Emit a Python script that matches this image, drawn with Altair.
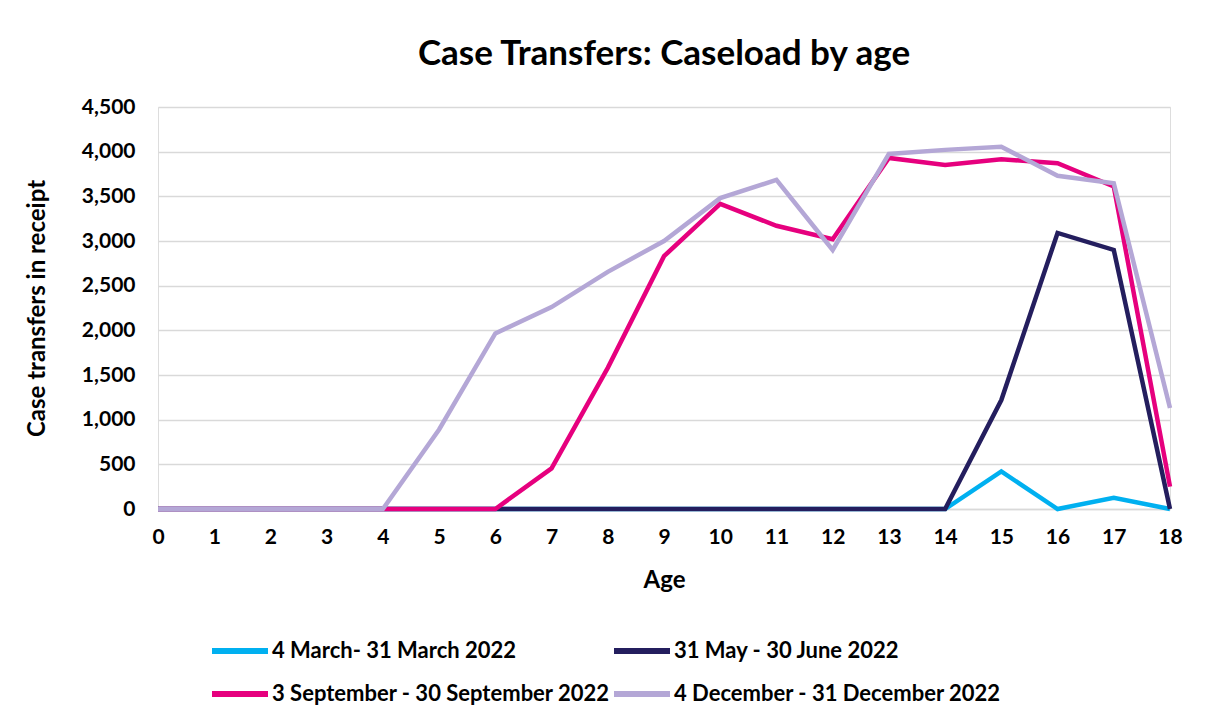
import altair as alt
import pandas as pd

ages = [0, 1, 2, 3, 4, 5, 6, 7, 8, 9, 10, 11, 12, 13, 14, 15, 16, 17, 18]
series_names = [
    " 4 March- 31 March 2022",
    "31 May - 30 June 2022",
    "3 September - 30 September 2022",
    "4 December - 31 December 2022",
]
series_colors = ["#00b0f0", "#241e5e", "#e6007e", "#b4a7d6"]
# legend fills column by column: list entries so rows read March|May, September|December
legend_order = [0, 2, 1, 3]

march = [0, 0, 0, 0, 0, 0, 0, 0, 0, 0, 0, 0, 0, 0, 0, 420, 0, 125, 0]
may_june = [0, 0, 0, 0, 0, 0, 0, 0, 0, 0, 0, 0, 0, 0, 0, 1220, 3090, 2900, 0]
september = [0, 0, 0, 0, 0, 0, 0, 455, 1580, 2830, 3415, 3170, 3020, 3930, 3850, 3915, 3870, 3610, 250]
december = [0, 0, 0, 0, 0, 890, 1965, 2260, 2655, 3000, 3480, 3685, 2900, 3975, 4020, 4055, 3730, 3645, 1130]

y_ticks = [0, 500, 1000, 1500, 2000, 2500, 3000, 3500, 4000, 4500]

all_series = [march, may_june, september, december]
rows = []
for idx, (name, vals) in enumerate(zip(series_names, all_series)):
    for a, v in zip(ages, vals):
        rows.append({"Age": a, "Value": v, "Series": name, "Idx": idx})
df = pd.DataFrame(rows)

dom = [series_names[i] for i in legend_order]
rng = [series_colors[i] for i in legend_order]

FONT = "Lato"

chart = (
    alt.Chart(df)
    .mark_line(strokeWidth=4.5, strokeJoin="miter")
    .encode(
        x=alt.X(
            "Age:Q",
            scale=alt.Scale(domain=[0, 18], nice=False, zero=True),
            axis=alt.Axis(
                values=ages,
                format="d",
                title="Age",
                grid=False,
                ticks=False,
                domain=True,
                domainColor="#d9d9d9",
                domainWidth=1.5,
                labelPadding=17,
                titlePadding=21,
                labelFlush=False,
                labelFont=FONT,
                labelFontSize=21,
                labelFontWeight="bold",
                labelColor="#000000",
                titleFont=FONT,
                titleFontSize=24,
                titleFontWeight="bold",
                titleColor="#000000",
            ),
        ),
        y=alt.Y(
            "Value:Q",
            scale=alt.Scale(domain=[0, 4500], nice=False),
            axis=alt.Axis(
                values=y_ticks,
                format=",d",
                title="Case transfers in receipt",
                grid=True,
                gridColor="#d9d9d9",
                gridWidth=1.5,
                domain=False,
                ticks=False,
                labelPadding=23,
                titlePadding=32,
                labelFont=FONT,
                labelFontSize=21,
                labelFontWeight="bold",
                labelColor="#000000",
                titleFont=FONT,
                titleFontSize=24,
                titleFontWeight="bold",
                titleColor="#000000",
            ),
        ),
        color=alt.Color(
            "Series:N",
            sort=dom,
            scale=alt.Scale(domain=dom, range=rng),
            legend=alt.Legend(
                title=None,
                orient="none",
                legendX=59,
                legendY=521,
                columns=2,
                columnPadding=-8,
                rowPadding=8,
                symbolType="M-1.4,0H1.4",
                symbolSize=1600,
                symbolStrokeWidth=6,
                labelOffset=9,
                labelFontSize=22,
                labelFont=FONT,
                labelFontWeight="bold",
                labelColor="#000000",
                labelLimit=500,
            ),
        ),
        order=alt.Order("Idx:Q"),
    )
    .properties(
        width=1012,
        height=402,
        title=alt.TitleParams(
            "Case Transfers: Caseload by age",
            fontSize=35,
            font=FONT,
            fontWeight="bold",
            color="#000000",
            anchor="middle",
            offset=24,
        ),
        autosize=alt.AutoSizeParams(type="none"),
        padding={"left": 150, "top": 99, "right": 32, "bottom": 205},
    )
    .configure_view(stroke=None)
    .configure(background="white")
)

chart.save("out.html", embed_options={"renderer": "svg", "actions": False})
